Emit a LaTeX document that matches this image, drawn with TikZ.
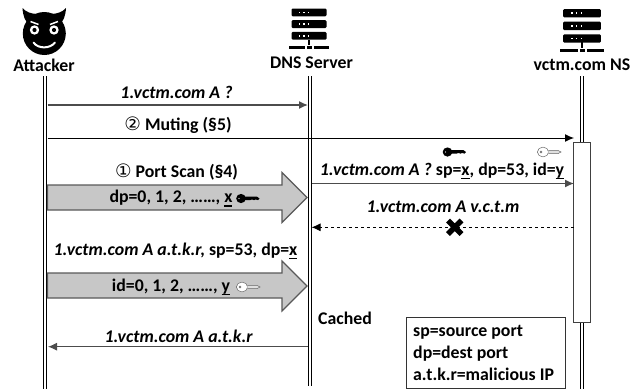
\documentclass[tikz,border=0pt]{standalone}
\usepackage{fontspec}
\setmainfont{Carlito}
\newfontfamily\symf{DejaVu Sans}
\usetikzlibrary{arrows.meta}
\newcommand{\ul}[1]{\setbox0\hbox{#1}\rlap{\raisebox{-3.8pt}{\rule{\wd0}{1.4pt}}}#1}
\tikzset{
  lbl/.style={inner sep=0pt,font=\fontsize{17.8}{20}\selectfont\bfseries,text=black},
  msg/.style={inner sep=0pt,font=\fontsize{17.8}{20}\selectfont\bfseries\itshape,text=black},
  life/.style={draw=black,line width=1pt},
  arr/.style={draw=black,line width=1pt,-{Latex[length=9pt,width=8pt]}},
  bigarr/.style={draw=black!65,line width=1.2pt,fill=black!22},
  pics/server/.style={code={
    \foreach \yy in {0,11.7,23.4}{
      \fill[black,rounded corners=1.2pt] (-17.5,\yy) rectangle (17.5,\yy+7.8);
      \foreach \dd in {-9.5,-5,-0.5}{\fill[white] (\dd-.8,\yy+3.2) rectangle (\dd+.8,\yy+4.8);}
    }
    \fill[black] (-1.2,31) rectangle (1.2,36);
    \fill[black] (-20,37.2) rectangle (-4,40);
    \fill[black] (-2,37.2) rectangle (2.5,40);
    \fill[black] (5,37.2) rectangle (20,40);
  }},
  pics/blackkey/.style={code={
    \fill[black] (-7,0) ellipse (4.8 and 4.6);
    \fill[black] (-5,-1.8) -- (9,-1.8) -- (11.5,0) -- (10,1.6) -- (7.5,1) -- (6,1.6) -- (4,1) -- (2,1.6) -- (-5,1.8) -- cycle;
    \fill[white] (-9,0) circle (.7);
  }},
  pics/hollowkey/.style={code={
    \draw[black!60,line width=.5pt,fill=white] (-6,0) ellipse (5.6 and 4.9);
    \draw[black!60,line width=.5pt,fill=black!12] (-.6,-1.6) -- (9,-1.6) -- (12,0) -- (9,1.6) -- (-.6,1.6);
    \draw[black!60,line width=.4pt] (-8,0) circle (1);
  }},
}
\begin{document}
\begin{tikzpicture}[x=1pt,y=-1pt]
\useasboundingbox (0,0) rectangle (637,389);
% lifeline ends
\coordinate (a1t) at (43,76); \coordinate (a1b) at (43,389);
\coordinate (a2t) at (46,76); \coordinate (a2b) at (46,389);
\coordinate (d1t) at (308,76); \coordinate (d1b) at (308,386);
\coordinate (d2t) at (311,76); \coordinate (d2b) at (311,386);
\coordinate (n1t) at (580,76); \coordinate (n1b) at (580,389);
\coordinate (n2t) at (583.5,76); \coordinate (n2b) at (583.5,389);
\draw[life] (a1t)--(a1b); \draw[life] (a2t)--(a2b);
\draw[life] (d1t)--(d1b); \draw[life] (d2t)--(d2b);
\draw[life] (n1t)--(n1b); \draw[life] (n2t)--(n2b);
\node[draw=black!75,fill=white,line width=.9pt,minimum width=16.6pt,minimum height=180pt,inner sep=0pt] (nsbox) at (582,232) {};
% actors
\fill[black] (22.5,8) .. controls (23,16) and (25,22) .. (30,25) -- (38,14) .. controls (31,14) and (26,12) .. (22.5,8) -- cycle;
\fill[black] (66,8) .. controls (65.5,16) and (63.5,22) .. (58.5,25) -- (50.5,14) .. controls (57,14) and (62.5,12) .. (66,8) -- cycle;
\fill[black] (44.3,33.5) circle (21.5);
\fill[white] (34.5,30) circle (4.7); \fill[black] (34.5,30) circle (2.1);
\fill[white] (54,30) circle (4.7); \fill[black] (54,30) circle (2.1);
\draw[white,line width=1.5pt] (30.5,21.5)--(38.5,24.5);
\draw[white,line width=1.5pt] (58,21.5)--(50,24.5);
\draw[white,line width=2pt,line cap=round] (33.5,42.5) .. controls (38,49) and (50,49) .. (55,42.5);
\node[lbl] (attacker) at (44,65.5) {Attacker};
\pic at (309,8.5) {server};
\node[lbl] (dns) at (311.5,62.5) {DNS Server};
\pic[scale=1.08] at (582,9) {server};
\node[lbl] (ns) at (582,65) {vctm.com NS};
% messages
\coordinate (m1a) at (47.5,105); \coordinate (m1b) at (308,105);
\draw[arr,draw=black!70,line width=1.4pt] (m1a)--(m1b);
\node[msg] (t1) at (176.5,92.5) {1.vctm.com A ?};
\coordinate (m2a) at (47.5,138); \coordinate (m2b) at (574,138);
\draw[arr] (m2a)--(m2b);
\node[lbl] (t2) at (178,125.5) {{\symf\fontsize{18.5}{15}\selectfont\mdseries ②} Muting (§5)};
\node[lbl] (t3) at (176.5,172) {{\symf\fontsize{18.5}{15}\selectfont\mdseries ①} Port Scan (§4)};
\draw[bigarr] (47.5,185) -- (282,185) -- (282,172.5) -- (307,197.5) -- (282,222.5) -- (282,210) -- (47.5,210) -- cycle;
\node[lbl] (t4) at (171,198.5) {dp=0, 1, 2, ……, \ul{x}};
\pic at (248,198.5) {blackkey};
\coordinate (m3a) at (311.5,183.5); \coordinate (m3b) at (574,183.5);
\draw[arr,draw=black!70,line width=1.3pt] (m3a)--(m3b);
\node[lbl] (t5) at (442,171) {\textit{1.vctm.com A ?} sp=\ul{x}, dp=53, id=\ul{y}};
\pic at (454.5,152) {blackkey};
\pic at (549,152) {hollowkey};
\coordinate (m4a) at (573.5,227.3); \coordinate (m4b) at (311.5,227.3);
\draw[arr,dashed,line width=.9pt] (m4a)--(m4b);
\node[msg] (t6) at (443,206.5) {1.vctm.com A v.c.t.m};
\draw[black,line width=5.5pt] (448,220.5)--(461.5,234) (461.5,220.5)--(448,234);
\node[lbl] (t7) at (175.5,251) {\textit{1.vctm.com A a.t.k.r,} sp=53, dp=\ul{x}};
\draw[bigarr] (47.5,273) -- (282,273) -- (282,261) -- (307,286) -- (282,311) -- (282,298) -- (47.5,298) -- cycle;
\node[lbl] (t8) at (171,287) {id=0, 1, 2, ……, \ul{y}};
\pic at (248,287) {hollowkey};
\coordinate (m5a) at (307.5,346.7); \coordinate (m5b) at (48,346.7);
\draw[arr,draw=black!70] (m5a)--(m5b);
\node[msg] (t9) at (178.5,336) {1.vctm.com A a.t.k.r};
\node[lbl,anchor=west] (cached) at (318,318.5) {Cached};
\node[draw=black!80,fill=white,line width=.9pt,minimum width=159.5pt,minimum height=71pt,inner sep=0pt] (legend) at (486,352.5) {};
\node[lbl,anchor=west,align=left] (l1) at (413,332.5) {sp=source port};
\node[lbl,anchor=west,align=left] (l2) at (413,353.5) {dp=dest port};
\node[lbl,anchor=west,align=left] (l3) at (413,374.5) {a.t.k.r=malicious IP};
\end{tikzpicture}
\end{document}
